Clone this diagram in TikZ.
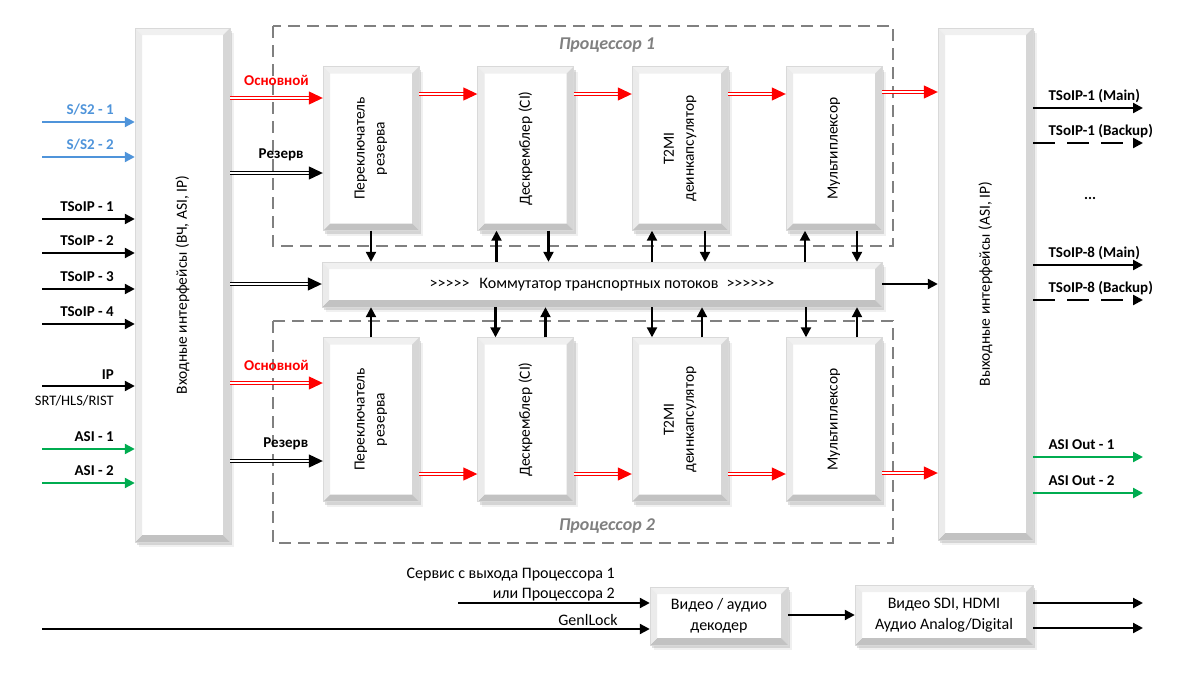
\documentclass[tikz,border=0pt]{standalone}
\usepackage{fontspec}
\setmainfont{Carlito}
\usetikzlibrary{arrows.meta,shadows}

\definecolor{sblue}{RGB}{79,148,218}
\definecolor{agreen}{RGB}{0,172,80}
\definecolor{mred}{RGB}{255,0,0}
\definecolor{procgray}{RGB}{128,128,128}

% bevelled faces of a block
\newcommand\bevelfaces[1]{%
  \coordinate (bnw) at (path picture bounding box.north west);
  \coordinate (bne) at (path picture bounding box.north east);
  \coordinate (bsw) at (path picture bounding box.south west);
  \coordinate (bse) at (path picture bounding box.south east);
  \fill[black!6] (bnw) -- (bne) -- ([shift={(-#1,-#1)}]bne) -- ([shift={(#1,-#1)}]bnw) -- cycle;
  \fill[black!16] (bne) -- (bse) -- ([shift={(-#1,#1)}]bse) -- ([shift={(-#1,-#1)}]bne) -- cycle;
  \fill[black!24] (bse) -- (bsw) -- ([shift={(#1,#1)}]bsw) -- ([shift={(-#1,#1)}]bse) -- cycle;
  \fill[black!8] (bsw) -- (bnw) -- ([shift={(#1,-#1)}]bnw) -- ([shift={(#1,#1)}]bsw) -- cycle;
}

\begin{document}
\begin{tikzpicture}[x=1pt, y=-1pt,
    blk/.style={draw=black!15, fill=white, line width=0.4pt, inner sep=0pt,
      drop shadow={shadow xshift=4pt, shadow yshift=-5pt, opacity=0.12},
      drop shadow={shadow xshift=2pt, shadow yshift=-3pt, opacity=0.25},
      path picture={\bevelfaces{7pt}}},
    unit/.style={blk, minimum width=96pt, minimum height=164pt},
    vtxt/.style={rotate=90, align=center, font=\fontsize{15.5}{20}\selectfont},
    txt/.style={inner sep=0pt, font=\fontsize{16}{21}\selectfont},
    lbl/.style={inner sep=0pt, font=\bfseries\fontsize{15}{17}\selectfont},
    arr/.style={line width=2.2pt, -{Triangle[length=10pt,width=10pt]}},
    dbl/.style={double=white, double distance=2pt, line width=1.2pt,
      -{Triangle[length=14pt,width=13pt]}},
    bkp/.style={arr, dash pattern=on 22pt off 12pt},
    proc/.style={draw=procgray, line width=1.8pt, dash pattern=on 12pt off 7pt},
    proclbl/.style={text=procgray, font=\bfseries\itshape\fontsize{18}{20}\selectfont}]
\useasboundingbox (0,0) rectangle (1200,680);

% processor frames
\draw[proc] (273,26) rectangle (893,246);
\draw[proc] (273,321) rectangle (893,543);
\node[proclbl] at (607,45) {Процессор 1};
\node[proclbl] at (607,526) {Процессор 2};

% interfaces
\node[blk, minimum width=95pt, minimum height=514pt] (inbox) at (182.5,285) {};
\node[vtxt] at (inbox) {Входные интерфейсы (ВЧ, ASI, IP)};
\node[blk, minimum width=95pt, minimum height=512pt] (outbox) at (985.5,284) {};
\node[vtxt] at (outbox) {Выходные интерфейсы (ASI, IP)};

% processor 1
\node[unit] (rsw1) at (371,148.5) {};
\node[vtxt] at (rsw1) {Переключатель\\резерва};
\node[unit] (dsc1) at (525.5,148.5) {};
\node[vtxt] at (dsc1) {Дескремблер (CI)};
\node[unit] (t2mi1) at (680,148.5) {};
\node[vtxt] at (t2mi1) {T2MI\\деинкапсулятор};
\node[unit] (mux1) at (834,148.5) {};
\node[vtxt] at (mux1) {Мультиплексор};

% processor 2
\node[unit] (rsw2) at (371,419.5) {};
\node[vtxt] at (rsw2) {Переключатель\\резерва};
\node[unit] (dsc2) at (525.5,419.5) {};
\node[vtxt] at (dsc2) {Дескремблер (CI)};
\node[unit] (t2mi2) at (680,419.5) {};
\node[vtxt] at (t2mi2) {T2MI\\деинкапсулятор};
\node[unit] (mux2) at (834,419.5) {};
\node[vtxt] at (mux2) {Мультиплексор};

% stream switch
\node[blk, minimum width=560pt, minimum height=45pt, txt] (tsw) at (602,284.5)
  {>{}>{}>{}>{}>\hspace{10pt}Коммутатор транспортных потоков\hspace{8pt}>{}>{}>{}>{}>{}>};

% inputs
\coordinate (s1) at (42,122);
\coordinate (s2) at (42,157);
\coordinate (ip1) at (42,219);
\coordinate (ip2) at (42,253);
\coordinate (ip3) at (42,289);
\coordinate (ip4) at (42,324);
\coordinate (ipn) at (42,386);
\coordinate (asi1) at (42,449);
\coordinate (asi2) at (42,483);
\draw[arr, sblue] (s1) -- (s1 -| inbox.west) node[lbl, text=sblue, pos=0.785, anchor=base east, yshift=8pt] {S/S2 - 1};
\draw[arr, sblue] (s2) -- (s2 -| inbox.west) node[lbl, text=sblue, pos=0.785, anchor=base east, yshift=8pt] {S/S2 - 2};
\draw[arr] (ip1) -- (ip1 -| inbox.west) node[lbl, pos=0.785, anchor=base east, yshift=8pt] {TSoIP - 1};
\draw[arr] (ip2) -- (ip2 -| inbox.west) node[lbl, pos=0.785, anchor=base east, yshift=8pt] {TSoIP - 2};
\draw[arr] (ip3) -- (ip3 -| inbox.west) node[lbl, pos=0.785, anchor=base east, yshift=8pt] {TSoIP - 3};
\draw[arr] (ip4) -- (ip4 -| inbox.west) node[lbl, pos=0.785, anchor=base east, yshift=8pt] {TSoIP - 4};
\draw[arr] (ipn) -- (ipn -| inbox.west) node[lbl, pos=0.785, anchor=base east, yshift=7pt] {IP}
  node[txt, font=\fontsize{14.5}{16}\selectfont, pos=0.785, anchor=base east, yshift=-19pt] {SRT/HLS/RIST};
\draw[arr, agreen] (asi1) -- (asi1 -| inbox.west) node[lbl, pos=0.785, anchor=base east, yshift=8pt, text=black] {ASI - 1};
\draw[arr, agreen] (asi2) -- (asi2 -| inbox.west) node[lbl, pos=0.785, anchor=base east, yshift=8pt, text=black] {ASI - 2};

% into the processors
\draw[dbl, mred] (inbox.east |- 0,98) -- (rsw1.west |- 0,98) node[lbl, text=mred, pos=0.5, anchor=base, yshift=13pt] {Основной};
\draw[dbl] (inbox.east |- 0,173) -- (rsw1.west |- 0,173) node[lbl, pos=0.55, anchor=base, yshift=15pt] {Резерв};
\draw[dbl] (inbox.east |- 0,284) -- (tsw.west |- 0,284);
\draw[dbl, mred] (inbox.east |- 0,383) -- (rsw2.west |- 0,383) node[lbl, text=mred, pos=0.5, anchor=base, yshift=13pt] {Основной};
\draw[dbl] (inbox.east |- 0,461) -- (rsw2.west |- 0,461) node[lbl, pos=0.6, anchor=base, yshift=14pt] {Резерв};

% main chain, processor 1
\draw[dbl, mred] (rsw1.east |- 0,94) -- (dsc1.west |- 0,94);
\draw[dbl, mred] (dsc1.east |- 0,94) -- (t2mi1.west |- 0,94);
\draw[dbl, mred] (t2mi1.east |- 0,94) -- (mux1.west |- 0,94);
\draw[dbl, mred] (mux1.east |- 0,92) -- (outbox.west |- 0,92);

% main chain, processor 2
\draw[dbl, mred] (rsw2.east |- 0,474) -- (dsc2.west |- 0,474);
\draw[dbl, mred] (dsc2.east |- 0,474) -- (t2mi2.west |- 0,474);
\draw[dbl, mred] (t2mi2.east |- 0,474) -- (mux2.west |- 0,474);
\draw[dbl, mred] (mux2.east |- 0,473) -- (outbox.west |- 0,473);

% to and from the switch
\draw[arr] (rsw1.south) -- (rsw1.south |- tsw.north);
\draw[arr] ([xshift=-29pt]dsc1.south |- tsw.north) -- ([xshift=-29pt]dsc1.south);
\draw[arr] ([xshift=23pt]dsc1.south) -- ([xshift=23pt]dsc1.south |- tsw.north);
\draw[arr] ([xshift=-28pt]t2mi1.south |- tsw.north) -- ([xshift=-28pt]t2mi1.south);
\draw[arr] ([xshift=25pt]t2mi1.south) -- ([xshift=25pt]t2mi1.south |- tsw.north);
\draw[arr] ([xshift=-29pt]mux1.south |- tsw.north) -- ([xshift=-29pt]mux1.south);
\draw[arr] ([xshift=23pt]mux1.south) -- ([xshift=23pt]mux1.south |- tsw.north);

\draw[arr] (rsw2.north) -- (rsw2.north |- tsw.south);
\draw[arr] ([xshift=-30pt]dsc2.north |- tsw.south) -- ([xshift=-30pt]dsc2.north);
\draw[arr] ([xshift=20pt]dsc2.north) -- ([xshift=20pt]dsc2.north |- tsw.south);
\draw[arr] ([xshift=-28pt]t2mi2.north |- tsw.south) -- ([xshift=-28pt]t2mi2.north);
\draw[arr] ([xshift=22pt]t2mi2.north) -- ([xshift=22pt]t2mi2.north |- tsw.south);
\draw[arr] ([xshift=-28pt]mux2.north |- tsw.south) -- ([xshift=-28pt]mux2.north);
\draw[arr] ([xshift=23pt]mux2.north) -- ([xshift=23pt]mux2.north |- tsw.south);

\draw[arr] (tsw.east |- 0,284) -- (outbox.west |- 0,284);

% outputs
\coordinate (o1) at (1143,108);
\coordinate (o2) at (1143,143);
\coordinate (o3) at (1143,265);
\coordinate (o4) at (1143,300);
\coordinate (o5) at (1143,457);
\coordinate (o6) at (1143,493);
\draw[arr] (outbox.east |- o1) -- (o1) node[lbl, pos=0.13, anchor=base west, yshift=8pt] {TSoIP-1 (Main)};
\draw[bkp] (outbox.east |- o2) -- (o2) node[lbl, pos=0.13, anchor=base west, yshift=8pt] {TSoIP-1 (Backup)};
\node[lbl] (dots) at (1090,198) {...};
\draw[arr] (outbox.east |- o3) -- (o3) node[lbl, pos=0.13, anchor=base west, yshift=8pt] {TSoIP-8 (Main)};
\draw[bkp] (outbox.east |- o4) -- (o4) node[lbl, pos=0.13, anchor=base west, yshift=8pt] {TSoIP-8 (Backup)};
\draw[arr, agreen] (outbox.east |- o5) -- (o5) node[lbl, text=black, pos=0.13, anchor=base west, yshift=8pt] {ASI Out - 1};
\draw[arr, agreen] (outbox.east |- o6) -- (o6) node[lbl, text=black, pos=0.13, anchor=base west, yshift=8pt] {ASI Out - 2};

% decoder
\node[blk, minimum width=138pt, minimum height=58pt, txt, align=center] (avdec) at (719,616) {Видео / аудио\\декодер};
\node[blk, minimum width=178pt, minimum height=60pt, txt, align=center] (avout) at (944,615) {Видео SDI, HDMI\\Аудио Analog/Digital};
\coordinate (svc) at (458,603);
\coordinate (glk) at (42,629);
\coordinate (av1) at (1143,603);
\coordinate (av2) at (1143,628);
\node[txt, anchor=base east] (svctxt) at (615,578) {Сервис с выхода Процессора 1};
\node[txt, anchor=base east] (svctxt2) at (615,598) {или Процессора 2};
\draw[arr] (svc) -- (svc -| avdec.west);
\draw[arr] (glk) -- (glk -| avdec.west) node[txt, pos=0.949, anchor=base east, yshift=4pt] {GenlLock};
\draw[arr] (avdec.east |- 0,615) -- (avout.west |- 0,615);
\draw[arr] (avout.east |- av1) -- (av1);
\draw[arr] (avout.east |- av2) -- (av2);
\end{tikzpicture}
\end{document}
